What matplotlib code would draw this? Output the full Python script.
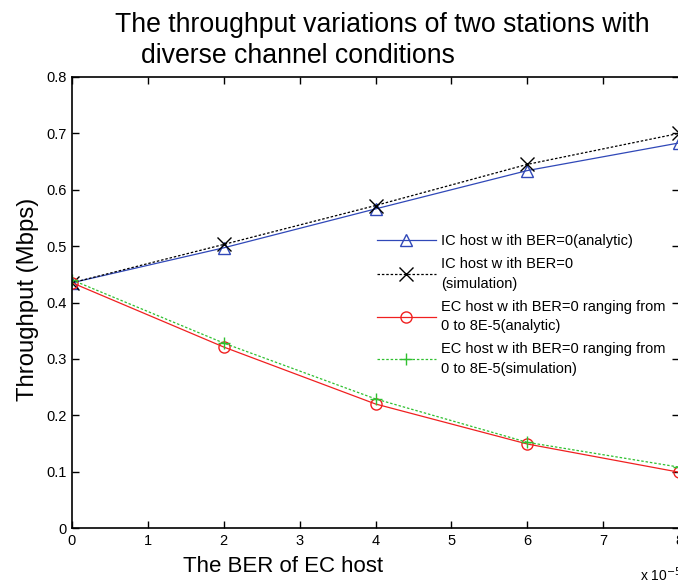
import matplotlib
matplotlib.use("Agg")
import matplotlib.pyplot as plt

plt.rcParams['font.family'] = ['Liberation Sans', 'DejaVu Sans']

ber = [0, 2, 4, 6, 8]
ic_analytic = [0.435, 0.497, 0.566, 0.634, 0.683]
ic_sim = [0.435, 0.503, 0.572, 0.645, 0.700]
ec_analytic = [0.435, 0.321, 0.220, 0.149, 0.099]
ec_sim = [0.440, 0.328, 0.229, 0.152, 0.108]

labels = ["IC host w ith BER=0(analytic)",
          "IC host w ith BER=0\n(simulation)",
          "EC host w ith BER=0 ranging from\n0 to 8E-5(analytic)",
          "EC host w ith BER=0 ranging from\n0 to 8E-5(simulation)"]

fig = plt.figure(figsize=(6.78, 5.84), dpi=100)
ax = fig.add_axes([72/678, 1-528/584, 607/678, 451/584])

ax.plot(ber, ic_analytic, color='#3048B8', lw=0.9, marker='^', ms=9,
        mfc='none', mec='#3048B8', mew=1.0, label=labels[0])
ax.plot(ber, ic_sim, color='black', lw=0.9, ls=(0, (2, 1.5)), marker='x', ms=10,
        mew=1.0, label=labels[1])
ax.plot(ber, ec_analytic, color='#F02020', lw=0.9, marker='o', ms=8,
        mfc='none', mec='#F02020', mew=1.0, label=labels[2])
ax.plot(ber, ec_sim, color='#30C030', lw=0.9, ls=(0, (2, 1.5)), marker='+', ms=9,
        mew=1.0, label=labels[3])

ax.set_xlim(0, 8)
ax.set_ylim(0, 0.8)
ax.set_xticks(range(0, 9))
ax.set_yticks([0, 0.1, 0.2, 0.3, 0.4, 0.5, 0.6, 0.7, 0.8])
ax.set_yticklabels(['0', '0.1', '0.2', '0.3', '0.4', '0.5', '0.6', '0.7', '0.8'])
ax.tick_params(direction='in', top=True, right=True, labelsize=10.5, length=5, width=1, pad=4)
for s in ax.spines.values():
    s.set_linewidth(1.2)

fig.text(28/678, 1-299/584, 'Throughput (Mbps)', fontsize=17.2, rotation=90,
         ha='center', va='center')
fig.text(283/678, 1-566/584, 'The BER of EC host', fontsize=16, ha='center', va='center')
fig.text(640/678, 1-575/584, r'x 10$^{-5}$', fontsize=10, ha='left', va='center')

fig.text(115/678, 1-32/584, 'The throughput variations of two stations with',
         fontsize=19.2, ha='left', va='baseline')
fig.text(141/678, 1-63/584, 'diverse channel conditions',
         fontsize=19.2, ha='left', va='baseline')

leg = ax.legend(loc='upper left', bbox_to_anchor=(367/678, 1-224/584),
                bbox_transform=fig.transFigure, frameon=False, fontsize=10.5,
                handlelength=4.0, handletextpad=0.35, labelspacing=0.62,
                borderpad=0.2)
for t in leg.get_texts():
    t.set_linespacing(1.5)

fig.savefig('out.png', dpi=100)
